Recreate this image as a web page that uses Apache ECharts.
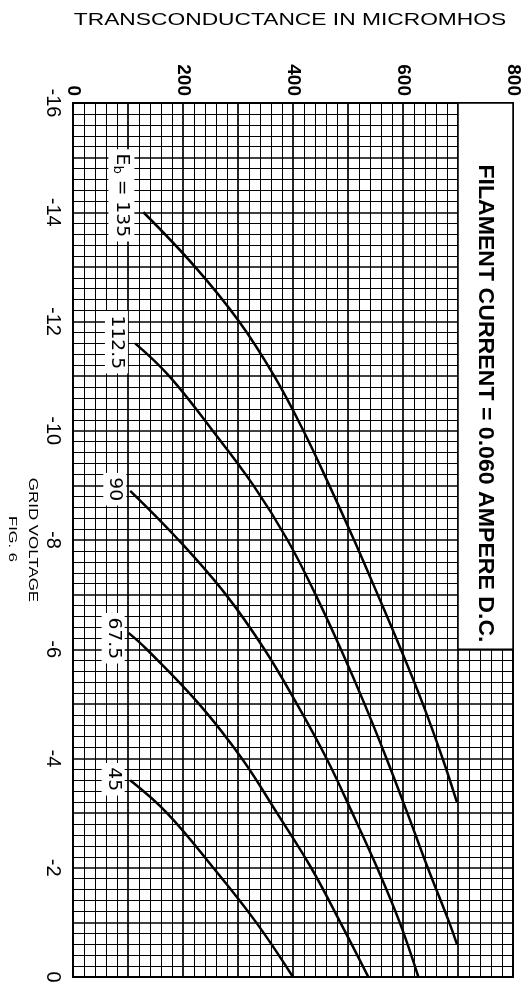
<!DOCTYPE html>
<html>
<head>
<meta charset="utf-8">
<script src="https://cdn.jsdelivr.net/npm/echarts@6/dist/echarts.min.js"></script>
<style>
html,body{margin:0;padding:0;background:#fff;}
#chart{width:531px;height:987px;}
</style>
</head>
<body>
<div id="chart"></div>
<script>
// Grid voltage (V) and transconductance (micromhos) readings per plate voltage curve
const curveNames = ['135', '112.5', '90', '67.5', '45'];
const voltage135 = [-14, -13, -12, -11, -10, -9, -8, -7, -6, -5, -4, -3.2];
const gm135      = [128, 222, 302, 366, 419, 466, 511, 554, 596, 636, 672, 698];
const voltage1125 = [-11.6, -11, -10, -9, -8, -7, -6, -5, -4, -3, -2, -1, -0.6];
const gm1125      = [113, 175, 254, 328, 390, 441, 487, 530, 570, 608, 645, 684, 698];
const voltage90 = [-8.9, -8, -7, -6, -5, -4, -3, -2, -1, 0];
const gm90      = [104, 192, 278, 348, 407, 461, 508, 553, 594, 628];
const voltage675 = [-6.3, -6, -5, -4, -3, -2, -1, 0];
const gm675      = [101, 134, 229, 307, 371, 433, 486, 537];
const voltage45 = [-3.6, -3, -2, -1, 0];
const gm45      = [104, 171, 255, 333, 400];

const gmTicks = [0, 200, 400, 600, 800];
const voltageTicks = [-16, -14, -12, -10, -8, -6, -4, -2, 0];

const curves = [
  [voltage135, gm135],
  [voltage1125, gm1125],
  [voltage90, gm90],
  [voltage675, gm675],
  [voltage45, gm45]
];

// label anchors (data coordinates: transconductance, grid voltage)
const labelAnchors = [[88, -14.31], [79, -11.62], [76, -8.93], [73, -6.2], [73, -3.62]];
const filamentBox = [[700, -16], [800, -6]];
const filamentTextAnchor = [750, -10.5];

const chart = echarts.init(document.getElementById('chart'), null, {renderer: 'canvas'});

const series = curves.map((c, i) => ({
  type: 'line',
  name: curveNames[i],
  data: c[0].map((v, k) => [c[1][k], v]),
  showSymbol: false,
  smooth: 0.4,
  lineStyle: {color: '#000', width: 2.5},
  z: 5,
  markArea: i === 0 ? {
    silent: true,
    itemStyle: {color: '#fff', borderColor: '#000', borderWidth: 1.5},
    data: [[{coord: filamentBox[0]}, {coord: filamentBox[1]}]]
  } : undefined
}));

const option = {
  animation: false,
  backgroundColor: '#fff',
  grid: {left: 73, right: 18, top: 103, bottom: 10, show: true, borderColor: '#000', borderWidth: 2, backgroundColor: 'transparent'},
  xAxis: {
    type: 'value', position: 'top', min: 0, max: 800, interval: 100,
    axisLine: {show: true, lineStyle: {color: '#000', width: 2}},
    axisTick: {show: false},
    axisLabel: {
      rotate: -90, margin: 7, color: '#000', fontSize: 19, fontWeight: 'bold', fontFamily: 'Liberation Sans',
      formatter: v => gmTicks.indexOf(v) >= 0 ? String(v) : ''
    },
    splitLine: {show: true, lineStyle: {color: '#000', width: 1.7}},
    minorTick: {show: false, splitNumber: 5},
    minorSplitLine: {show: true, lineStyle: {color: '#000', width: 1}}
  },
  yAxis: {
    type: 'value', inverse: true, min: -16, max: 0, interval: 1,
    axisLine: {show: true, lineStyle: {color: '#000', width: 2}},
    axisTick: {show: false},
    axisLabel: {
      rotate: -90, margin: 10, color: '#000', fontSize: 20, fontFamily: 'Liberation Sans',
      formatter: v => voltageTicks.indexOf(v) >= 0 ? String(v) : ''
    },
    splitLine: {show: true, lineStyle: {color: '#000', width: 1.7}},
    minorTick: {show: false, splitNumber: 5},
    minorSplitLine: {show: true, lineStyle: {color: '#000', width: 1}}
  },
  series: series
};
chart.setOption(option);

function txt(x, y, text, font, scaleX, extra) {
  return {
    type: 'text', x: x, y: y, rotation: -Math.PI / 2, scaleX: scaleX, z: 100,
    style: Object.assign({
      text: text, font: font, fill: '#000',
      align: 'center', verticalAlign: 'middle', textAlign: 'center', textVerticalAlign: 'middle'
    }, extra || {})
  };
}

const labelTexts = ['{e|E}{s|b}{e| = 135}', '112.5', '90', '67.5', '45'];
const graphics = [];
labelAnchors.forEach((a, i) => {
  const p = chart.convertToPixel({gridIndex: 0}, a);
  const extra = {backgroundColor: '#fff', padding: [3, 4]};
  if (i === 0) {
    extra.rich = {
      e: {font: '17px "DejaVu Sans"', fill: '#000', verticalAlign: 'middle'},
      s: {font: '12px "DejaVu Sans"', fill: '#000', padding: [8, 0, 0, 0]}
    };
  }
  graphics.push(txt(p[0], p[1], labelTexts[i], '17px "DejaVu Sans"', 1.1, extra));
});
const fp = chart.convertToPixel({gridIndex: 0}, filamentTextAnchor);
graphics.push(txt(fp[0], fp[1], 'FILAMENT CURRENT = 0.060 AMPERE D.C.', 'bold 22px "Liberation Sans"', 1.05));

// titles
graphics.push({
  type: 'text', x: 290, y: 20, scaleX: 1.34, z: 100,
  style: {text: 'TRANSCONDUCTANCE IN MICROMHOS', font: '17px "Liberation Sans"', fill: '#000',
    align: 'center', verticalAlign: 'middle', textAlign: 'center', textVerticalAlign: 'middle'}
});
graphics.push(txt(33, 540, 'GRID VOLTAGE', '13px "Liberation Sans"', 1.3));
graphics.push(txt(12, 539, 'FIG. 6', '11px "Liberation Sans"', 1.5));

chart.setOption({graphic: graphics});
</script>
</body>
</html>
